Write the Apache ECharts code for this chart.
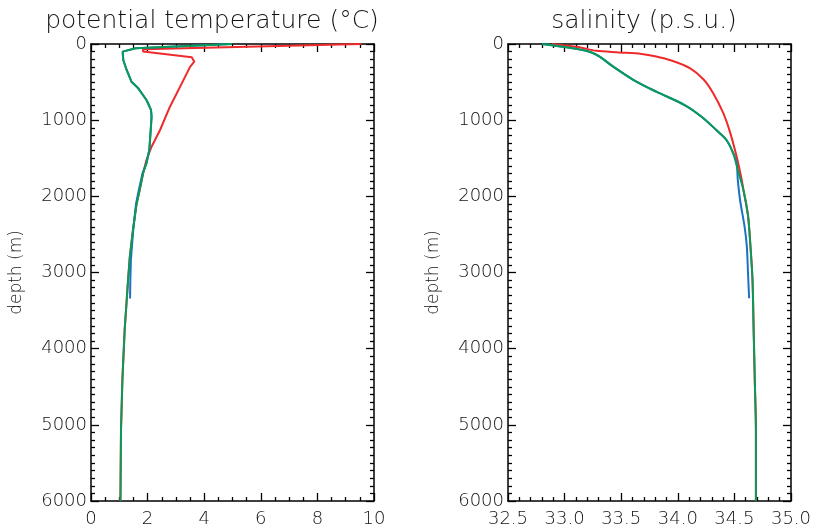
<!DOCTYPE html>
<html>
<head>
<meta charset="utf-8">
<script src="https://cdn.jsdelivr.net/npm/echarts@6/dist/echarts.min.js"></script>
<style>html,body{margin:0;padding:0;background:#fff}#c{width:816px;height:530px}</style>
</head>
<body>
<div id="c"></div>
<script>
// ---- data (depth in m) ----
const tempTicks = [0, 2, 4, 6, 8, 10];
const salTicks = [32.5, 33.0, 33.5, 34.0, 34.5, 35.0];
const depthTicks = [0, 1000, 2000, 3000, 4000, 5000, 6000];

const tempRedDepth = [0, 70, 100, 175, 232, 300, 560, 823, 1129, 1348, 1523, 1700, 1917, 2100, 2450, 2800, 3100, 3750, 4400, 5070, 6000];
const tempRedVal   = [9.55, 1.84, 1.84, 3.56, 3.65, 3.50, 3.15, 2.79, 2.44, 2.14, 1.96, 1.84, 1.72, 1.61, 1.48, 1.37, 1.31, 1.19, 1.11, 1.06, 1.04];

const tempBlueDepth = [0, 55, 100, 210, 341, 495, 582, 735, 866, 954, 1129, 1392, 1566, 1697, 1917, 2100, 2450, 2836, 3100, 3340];
const tempBlueVal   = [4.98, 1.58, 1.12, 1.14, 1.26, 1.43, 1.67, 1.96, 2.12, 2.14, 2.11, 2.06, 1.96, 1.82, 1.69, 1.59, 1.49, 1.41, 1.39, 1.38];

const tempGreenDepth = [0, 55, 100, 210, 341, 495, 582, 735, 866, 954, 1129, 1392, 1566, 1697, 1917, 2100, 2450, 2800, 3100, 3750, 4400, 5070, 6000];
const tempGreenVal   = [4.98, 1.58, 1.12, 1.14, 1.26, 1.43, 1.67, 1.96, 2.12, 2.14, 2.11, 2.06, 1.96, 1.84, 1.72, 1.61, 1.48, 1.37, 1.31, 1.19, 1.11, 1.06, 1.04];

const salRedDepth = [0, 40, 90, 110, 130, 160, 220, 320, 470, 640, 900, 1150, 1480, 1750, 1917, 2250, 2617, 3098, 3755, 4411, 5068, 6000];
const salRedVal   = [32.89, 33.12, 33.28, 33.48, 33.68, 33.80, 33.95, 34.11, 34.23, 34.31, 34.40, 34.46, 34.52, 34.56, 34.58, 34.62, 34.64, 34.66, 34.67, 34.68, 34.69, 34.69];

const salBlueDepth = [0, 44, 101, 167, 298, 473, 626, 801, 954, 1129, 1260, 1435, 1566, 1785, 2048, 2398, 2661, 3000, 3339];
const salBlueVal   = [32.80, 33.02, 33.22, 33.31, 33.43, 33.61, 33.81, 34.06, 34.21, 34.34, 34.43, 34.49, 34.52, 34.53, 34.55, 34.59, 34.61, 34.62, 34.63];

const salGreenDepth = [0, 44, 101, 167, 298, 473, 626, 801, 954, 1129, 1260, 1435, 1654, 1917, 2250, 2617, 3098, 3755, 4411, 5068, 6000];
const salGreenVal   = [32.80, 33.02, 33.22, 33.31, 33.43, 33.61, 33.81, 34.06, 34.21, 34.34, 34.43, 34.49, 34.53, 34.58, 34.62, 34.64, 34.66, 34.67, 34.68, 34.69, 34.69];

const colors = {red: '#ee2a2a', blue: '#1a72c8', green: '#0a9a58'};
const FONT = 'DejaVu Sans';
const TXT = '#111';

function pairs(vals, depths) { return vals.map((v, i) => [v, depths[i]]); }

function xAx(grid, pos, min, max, interval, labels, fmt) {
  return {
    type: 'value', gridIndex: grid, position: pos, min: min, max: max, interval: interval,
    axisLine: {show: true, onZero: false, lineStyle: {color: '#000', width: 1.5}},
    axisTick: {show: true, inside: true, length: 8, lineStyle: {color: '#000', width: 1.3}},
    minorTick: {show: true, splitNumber: (interval === 2 ? 4 : 5), length: 4, lineStyle: {color: '#000', width: 1.3}},
    splitLine: {show: false},
    minorSplitLine: {show: false},
    axisLabel: {show: labels, margin: 9, fontSize: 18, fontFamily: FONT, fontWeight: 200, color: TXT, formatter: fmt}
  };
}
function yAx(grid, pos, labels, name) {
  return {
    type: 'value', gridIndex: grid, position: pos, inverse: true, min: 0, max: 6000, interval: 1000,
    name: name, nameLocation: 'middle', nameGap: 66, nameRotate: 90,
    nameTextStyle: {fontSize: 17, fontFamily: FONT, fontWeight: 200, color: TXT},
    axisLine: {show: true, onZero: false, lineStyle: {color: '#000', width: 1.5}},
    axisTick: {show: true, inside: true, length: 8, lineStyle: {color: '#000', width: 1.3}},
    minorTick: {show: true, splitNumber: 10, length: 4, lineStyle: {color: '#000', width: 1.3}},
    splitLine: {show: false},
    minorSplitLine: {show: false},
    axisLabel: {show: labels, margin: 4, fontSize: 18, fontFamily: FONT, fontWeight: 200, color: TXT, formatter: v => String(v)}
  };
}
function line(name, data, color, xi, yi, sm) {
  return {name: name, type: 'line', xAxisIndex: xi, yAxisIndex: yi, data: data, showSymbol: false, symbol: 'none',
    smooth: sm, lineStyle: {color: color, width: 2}, itemStyle: {color: color}, animation: false};
}

const chart = echarts.init(document.getElementById('c'), null, {renderer: 'canvas'});
chart.setOption({
  animation: false,
  backgroundColor: '#fff',
  title: [
    {text: 'potential temperature (°C)', left: 207, top: 4, textAlign: 'center',
     textStyle: {fontSize: 25, fontFamily: FONT, fontWeight: 200, color: TXT}},
    {text: 'salinity (p.s.u.)', left: 639, top: 4, textAlign: 'center',
     textStyle: {fontSize: 25, fontFamily: FONT, fontWeight: 200, color: TXT}}
  ],
  grid: [
    {left: 91, top: 44, width: 283, height: 457},
    {left: 508, top: 44, width: 283, height: 457}
  ],
  xAxis: [
    xAx(0, 'bottom', 0, 10, 2, true, v => String(v)),
    xAx(0, 'top', 0, 10, 2, false, null),
    xAx(1, 'bottom', 32.5, 35, 0.5, true, v => v.toFixed(1)),
    xAx(1, 'top', 32.5, 35, 0.5, false, null)
  ],
  yAxis: [
    yAx(0, 'left', true, 'depth (m)'),
    yAx(0, 'right', false, ''),
    yAx(1, 'left', true, 'depth (m)'),
    yAx(1, 'right', false, '')
  ],
  series: [
    line('T red', pairs(tempRedVal, tempRedDepth), colors.red, 0, 0, false),
    line('T blue', pairs(tempBlueVal, tempBlueDepth), colors.blue, 0, 0, false),
    line('T green', pairs(tempGreenVal, tempGreenDepth), colors.green, 0, 0, false),
    line('S red', pairs(salRedVal, salRedDepth), colors.red, 2, 2, 0.3),
    line('S blue', pairs(salBlueVal, salBlueDepth), colors.blue, 2, 2, 0.3),
    line('S green', pairs(salGreenVal, salGreenDepth), colors.green, 2, 2, 0.3)
  ]
});
</script>
</body>
</html>
